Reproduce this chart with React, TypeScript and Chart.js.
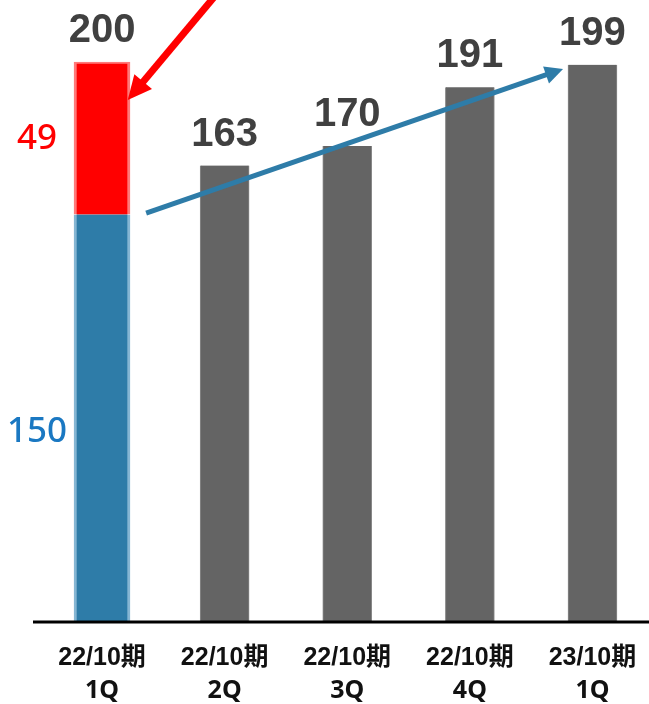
import React, { useEffect, useRef } from "react";
import { Chart, registerables } from "chart.js";

Chart.register(...registerables);

// ---- data ----
const categories: string[][] = [
  ["22/10期", "1Q"],
  ["22/10期", "2Q"],
  ["22/10期", "3Q"],
  ["22/10期", "4Q"],
  ["23/10期", "1Q"],
];
const grayValues: (number | null)[] = [null, 163, 170, 191, 199];
const blueValues: (number | null)[] = [145.5, null, null, null, null];
const redValues: (number | null)[] = [54.5, null, null, null, null];
const totalLabels: string[] = ["200", "163", "170", "191", "199"];
const segmentLabels: string[] = ["150", "49"];
const segmentLabelValues: number[] = [68, 172.5];

// annotation arrows in data coordinates: [categoryIndex, fraction of category width, value]
const trendArrowFrom = [0, 0.36, 146];
const trendArrowTo = [4, -0.24, 197.5];
const redArrowFrom = [0, 0.92, 223.5];
const redArrowTo = [0, 0.21, 186.4];

const BLUE = "#2e7ca8";
const RED = "#ff0000";
const GRAY = "#646464";

function drawArrow(
  ctx: CanvasRenderingContext2D,
  x1: number, y1: number, x2: number, y2: number,
  lw: number, headL: number, headW: number, color: string
) {
  const dx = x2 - x1, dy = y2 - y1;
  const len = Math.sqrt(dx * dx + dy * dy);
  const ux = dx / len, uy = dy / len;
  const nx = -uy, ny = ux;
  const bx = x2 - ux * headL, by = y2 - uy * headL;
  ctx.save();
  ctx.strokeStyle = color;
  ctx.fillStyle = color;
  ctx.lineWidth = lw;
  ctx.lineCap = "butt";
  ctx.beginPath();
  ctx.moveTo(x1, y1);
  ctx.lineTo(bx + ux * 2, by + uy * 2);
  ctx.stroke();
  ctx.beginPath();
  ctx.moveTo(x2, y2);
  ctx.lineTo(bx + nx * headW, by + ny * headW);
  ctx.lineTo(bx - nx * headW, by - ny * headW);
  ctx.closePath();
  ctx.fill();
  ctx.restore();
}

const overlayPlugin = {
  id: "overlay",
  afterDatasetsDraw(chart: any) {
    const ctx: CanvasRenderingContext2D = chart.ctx;
    const xs = chart.scales.x;
    const ys = chart.scales.y;
    const area = chart.chartArea;
    const catW = (area.right - area.left) / categories.length;
    const px = (p: number[]) => xs.getPixelForValue(p[0]) + p[1] * catW;
    const py = (p: number[]) => ys.getPixelForValue(p[2]);

    // baseline
    ctx.save();
    ctx.fillStyle = "#000000";
    ctx.fillRect(33, area.bottom - 1.5, chart.width - 33, 3);
    ctx.restore();

    // totals
    ctx.save();
    ctx.font = "bold 40px 'Liberation Sans', Arial, sans-serif";
    ctx.fillStyle = "#404040";
    ctx.textAlign = "center";
    ctx.textBaseline = "alphabetic";
    for (let i = 0; i < categories.length; i++) {
      const total = (grayValues[i] ?? 0) + (blueValues[i] ?? 0) + (redValues[i] ?? 0);
      const x = xs.getPixelForValue(i);
      const y = ys.getPixelForValue(total);
      ctx.fillText(totalLabels[i], x, y - 20);
    }
    ctx.restore();

    // segment labels
    ctx.save();
    ctx.font = "500 35px 'Noto Sans', sans-serif";
    ctx.textAlign = "center";
    ctx.textBaseline = "middle";
    const sx = xs.getPixelForValue(0) - 65;
    ctx.fillStyle = "#1a78c2";
    ctx.fillText(segmentLabels[0], sx, ys.getPixelForValue(segmentLabelValues[0]));
    ctx.fillStyle = RED;
    ctx.fillText(segmentLabels[1], sx, ys.getPixelForValue(segmentLabelValues[1]));
    ctx.restore();

    // category labels
    ctx.save();
    ctx.fillStyle = "#111111";
    ctx.textAlign = "center";
    ctx.textBaseline = "middle";
    for (let i = 0; i < categories.length; i++) {
      const x = xs.getPixelForValue(i);
      ctx.font = "bold 25px 'Liberation Sans', 'Noto Sans CJK JP', sans-serif";
      ctx.fillText(categories[i][0], x, area.bottom + 36);
      ctx.font = "bold 25px 'Noto Sans', sans-serif";
      ctx.fillText(categories[i][1], x, area.bottom + 69);
    }
    ctx.restore();

    // arrows
    drawArrow(ctx, px(trendArrowFrom), py(trendArrowFrom), px(trendArrowTo), py(trendArrowTo), 5, 18, 9, BLUE);
    drawArrow(ctx, px(redArrowFrom), py(redArrowFrom), px(redArrowTo), py(redArrowTo), 7, 24, 11.5, RED);
  },
};

export default function App() {
  const ref = useRef<HTMLCanvasElement | null>(null);
  useEffect(() => {
    if (!ref.current) return;
    const chart = new Chart(ref.current, {
      type: "bar",
      data: {
        labels: categories.map((c) => c.join(" ")),
        datasets: [
          {
            label: "blue",
            data: blueValues,
            backgroundColor: BLUE,
            borderColor: "#86b6d3",
            borderWidth: { left: 3, right: 3, top: 0, bottom: 0 },
            borderSkipped: false,
            barThickness: 56,
          },
          {
            label: "red",
            data: redValues,
            backgroundColor: RED,
            borderColor: "#ff7a7a",
            borderWidth: { left: 3, right: 3, top: 2, bottom: 0 },
            borderSkipped: false,
            barThickness: 56,
          },
          {
            label: "gray",
            data: grayValues,
            backgroundColor: GRAY,
            borderColor: "#8a8a8a",
            borderWidth: { left: 1, right: 1, top: 0, bottom: 0 },
            borderSkipped: false,
            barThickness: 49,
          },
        ],
      },
      options: {
        responsive: false,
        animation: false,
        devicePixelRatio: 1,
        layout: { padding: { left: 40.7, right: 6.2, top: 0, bottom: 82 } },
        plugins: { legend: { display: false }, tooltip: { enabled: false } },
        scales: {
          x: { stacked: true, display: false },
          y: { stacked: true, display: false, min: 0, max: 622 / 2.8 },
        },
      },
      plugins: [overlayPlugin],
    } as any);
    return () => chart.destroy();
  }, []);
  return (
    <div style={{ position: "absolute", left: 0, top: 0, width: 649, height: 704, overflow: "hidden", background: "#fff" }}>
      <canvas ref={ref} width={660} height={704} style={{ display: "block", width: 660, height: 704 }} />
    </div>
  );
}
